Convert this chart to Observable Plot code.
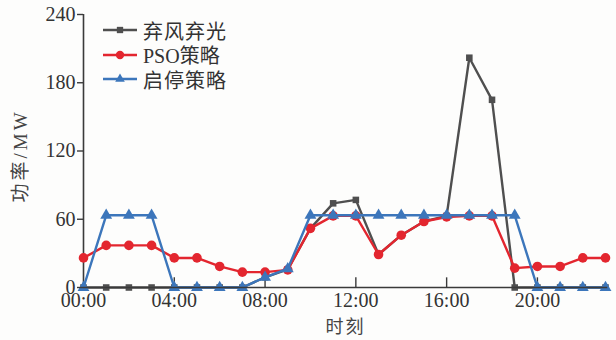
<!DOCTYPE html>
<html>
<head>
<meta charset="utf-8">
<script src="https://cdn.jsdelivr.net/npm/d3@7"></script>
<script src="https://cdn.jsdelivr.net/npm/@observablehq/plot@0.6"></script>
<style>
  html, body { margin: 0; padding: 0; background: #fdfdfc; }
  #wrap { position: relative; width: 616px; height: 340px; }
  #wrap svg text { font-family: "Liberation Serif", "Times New Roman", "Noto Sans CJK SC", serif; }
  #legend { position: absolute; left: 103px; top: 18px; font-family: "Liberation Serif", "Times New Roman", "Noto Sans CJK SC", serif; font-size: 20px; color: #333; }
  #legend .row { display: flex; align-items: center; height: 24.5px; }
  #legend svg { margin-right: 6px; }
  .axis-title { font-size: 18px; letter-spacing: 2px; }
  .axis-title-y { font-size: 19px; letter-spacing: 3px; }
</style>
</head>
<body>
<div id="wrap"><div id="legend"></div></div>
<script>
// Hours of the day (0..23)
const hours = d3.range(0, 24);

// Curtailed wind & solar power (MW)
const curtailment = [0, 0, 0, 0, 0, 0, 0, 0, 9, 16, 52, 74, 77, 29, 46, 58, 63, 202, 165, 0, 0, 0, 0, 0];
// PSO strategy (MW)
const pso = [26, 37, 37, 37, 26, 26, 18.5, 13.5, 13.5, 15.5, 52, 63, 63, 29, 46, 58, 62, 63, 63, 17, 18.5, 18.5, 26, 26];
// Start-stop strategy (MW)
const startStop = [0, 63.5, 63.5, 63.5, 0, 0, 0, 0, 9, 16.5, 63.5, 63.5, 63.5, 63.5, 63.5, 63.5, 63.5, 63.5, 63.5, 63.5, 0, 0, 0, 0];

const seriesNames = ["弃风弃光", "PSO策略", "启停策略"];
const seriesColors = ["#4f4f4f", "#e3262f", "#3c76bb"];
const seriesSymbols = ["square", "circle", "triangle"];
const seriesValues = [curtailment, pso, startStop];

const xTicks = [0, 4, 8, 12, 16, 20];
const yTicks = [0, 60, 120, 180, 240];
const xTitle = "时刻";
const yTitle = "功率/MW";

const fmtHour = h => String(h).padStart(2, "0") + ":00";

const rows = seriesValues.map((vals, i) =>
  hours.map((h, j) => ({hour: h, value: vals[j], series: seriesNames[i]}))
);

const marks = [];
rows.forEach((data, i) => {
  marks.push(Plot.line(data, {x: "hour", y: "value", stroke: seriesColors[i], strokeWidth: 2.4}));
  marks.push(Plot.dot(data, {
    x: "hour", y: "value", symbol: () => seriesSymbols[i], fill: seriesColors[i], stroke: "none",
    r: seriesSymbols[i] === "circle" ? 4.8 : (seriesSymbols[i] === "square" ? 3.7 : 4.4)
  }));
});

const axisColor = "#3a3a3a";

const chart = Plot.plot({
  width: 616,
  height: 340,
  marginLeft: 83,
  marginRight: 11,
  marginTop: 14,
  marginBottom: 53,
  style: {background: "transparent", fontSize: "20px", color: "#333"},
  x: {domain: [0, 23], range: [83, 605]},
  y: {domain: [0, 240]},
  marks: [
    Plot.ruleX([0], {stroke: axisColor, strokeWidth: 1.6}),
    Plot.ruleX(xTicks.slice(1), {y1: 0, y2: 8.5, stroke: axisColor, strokeWidth: 1.4}),
    ...marks,
    Plot.ruleY([0], {stroke: axisColor, strokeWidth: 1.6, x1: 0, x2: 23.1}),
    Plot.axisY({
      ticks: yTicks, tickSize: 6, tickPadding: 2, stroke: axisColor, strokeWidth: 1.4, label: null
    }),
    Plot.axisX({
      ticks: xTicks, tickFormat: fmtHour, tickSize: 0, tickPadding: 5, label: null
    }),
    // Axis titles
    Plot.text([yTitle], {
      frameAnchor: "left", textAnchor: "middle", dx: -63, dy: 5, rotate: -90, text: d => d,
      className: "axis-title-y", fill: "#444"
    }),
    Plot.text([xTitle], {
      frameAnchor: "bottom", dy: 45, dx: 1, text: d => d, className: "axis-title", fill: "#444"
    })
  ]
});

document.getElementById("wrap").prepend(chart);

// Legend: line + marker swatch for each series
const legend = d3.select("#legend");
seriesNames.forEach((name, i) => {
  const row = legend.append("div").attr("class", "row");
  const sw = row.append("svg").attr("width", 34).attr("height", 12);
  sw.append("line").attr("x1", 0).attr("x2", 34).attr("y1", 6).attr("y2", 6)
    .attr("stroke", seriesColors[i]).attr("stroke-width", 2.6);
  const sym = d3.symbol().type(
    seriesSymbols[i] === "square" ? d3.symbolSquare :
    seriesSymbols[i] === "circle" ? d3.symbolCircle : d3.symbolTriangle
  ).size(seriesSymbols[i] === "circle" ? 55 : 40);
  sw.append("path").attr("d", sym()).attr("transform", "translate(17,6)").attr("fill", seriesColors[i]);
  row.append("span").text(name).style("letter-spacing", i === 1 ? "0" : "1px");
});
</script>
</body>
</html>
